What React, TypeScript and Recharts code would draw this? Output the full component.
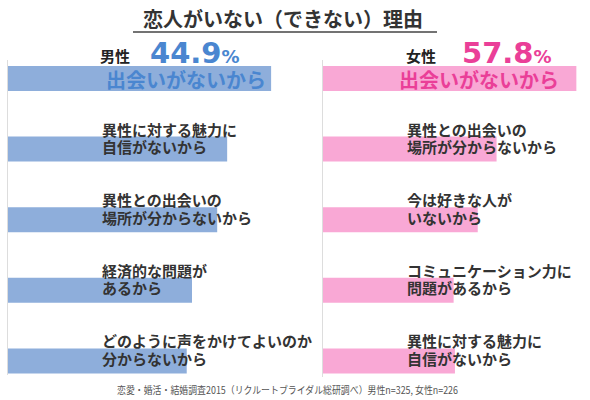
import { Bar, BarChart, LabelList, XAxis, YAxis } from "recharts";

const maleLine1 = ["出会いがないから", "異性に対する魅力に", "異性との出会いの", "経済的な問題が", "どのように声をかけてよいのか"];
const maleLine2 = ["", "自信がないから", "場所が分からないから", "あるから", "分からないから"];
const maleValues = [44.9, 37.4, 35.7, 31.4, 30.5];

const femaleLine1 = ["出会いがないから", "異性との出会いの", "今は好きな人が", "コミュニケーション力に", "異性に対する魅力に"];
const femaleLine2 = ["", "場所が分からないから", "いないから", "問題があるから", "自信がないから"];
const femaleValues = [57.8, 39.6, 35.3, 29.8, 30.1];

const title = "恋人がいない（できない）理由";
const note = "恋愛・婚活・結婚調査2015（リクルートブライダル総研調べ）男性n=325, 女性n=226";

const jp = '"Noto Sans CJK JP", "Noto Sans", sans-serif';
const num = '"DejaVu Sans", sans-serif';

type SideProps = {
  gender: string;
  values: number[];
  line1: string[];
  line2: string[];
  bar: string;
  accent: string;
  max: number;
  left: number;
  width: number;
  marginLeft: number;
  marginRight: number;
  topX: number;
  textX: number;
  genderX: number;
  pctX: number;
};

function Side(p: SideProps) {
  const data = p.values.map((v, i) => ({ name: p.line1[i] + p.line2[i], value: v }));

  const renderLabel = (props: any) => {
    const { y, height, index, value } = props;
    if (index === 0) {
      return (
        <g>
          <text x={p.genderX} y={y - 11} dominantBaseline="central" fontFamily={jp} fontWeight="bold" fontSize={15} fill="#222">
            {p.gender}
          </text>
          <text x={p.pctX} y={y - 3} fontFamily={num} fontWeight="bold" fontSize={29} fill={p.accent}>
            {value}
            <tspan fontSize={18}>%</tspan>
          </text>
          <text x={p.topX} y={y + height / 2 + 1} dominantBaseline="central" fontFamily={jp} fontWeight="bold" fontSize={20} fill={p.accent}>
            {p.line1[0]}
          </text>
        </g>
      );
    }
    return (
      <g fontFamily={jp} fontWeight="bold" fontSize={15} fill="#333">
        <text x={p.textX} y={y - 7.5} dominantBaseline="central">{p.line1[index]}</text>
        <text x={p.textX} y={y + 10} dominantBaseline="central">{p.line2[index]}</text>
      </g>
    );
  };

  return (
    <div style={{ position: "absolute", left: p.left, top: 0 }}>
      <BarChart
        width={p.width}
        height={400}
        data={data}
        layout="vertical"
        margin={{ top: 43, right: p.marginRight, bottom: 4, left: p.marginLeft }}
      >
        <XAxis type="number" domain={[0, p.max]} hide />
        <YAxis type="category" dataKey="name" hide />
        <Bar dataKey="value" fill={p.bar} barSize={25} isAnimationActive={false}>
          <LabelList dataKey="value" content={renderLabel} />
        </Bar>
      </BarChart>
    </div>
  );
}

export default function App() {
  return (
    <div style={{ position: "absolute", left: 0, top: 0, width: 590, height: 400, background: "#fff", overflow: "hidden" }}>
      <Side
        gender="男性"
        values={maleValues}
        line1={maleLine1}
        line2={maleLine2}
        bar="#8eaedb"
        accent="#4a86d0"
        max={50}
        left={0}
        width={330}
        marginLeft={8}
        marginRight={29}
        topX={106}
        textX={102}
        genderX={100}
        pctX={150}
      />
      <Side
        gender="女性"
        values={femaleValues}
        line1={femaleLine1}
        line2={femaleLine2}
        bar="#f9a8d5"
        accent="#ea3f98"
        max={60}
        left={323}
        width={267}
        marginLeft={0}
        marginRight={4}
        topX={76}
        textX={84}
        genderX={83}
        pctX={139}
      />
      <svg width={590} height={400} style={{ position: "absolute", left: 0, top: 0, pointerEvents: "none" }}>
        <line x1={7.5} x2={7.5} y1={60} y2={375} stroke="#dddddd" />
        <line x1={322.5} x2={322.5} y1={60} y2={377} stroke="#dddddd" />
        <text x={283} y={18} textAnchor="middle" dominantBaseline="central" fontFamily={jp} fontWeight="bold" fontSize={20} fill="#333">
          {title}
        </text>
        <line x1={133} x2={437} y1={32} y2={32} stroke="#444" strokeWidth={1.5} />
        <text
          x={117}
          y={389}
          dominantBaseline="central"
          fontFamily={jp}
          fontSize={10}
          fill="#555"
          textLength={341}
          lengthAdjust="spacingAndGlyphs"
        >
          {note}
        </text>
      </svg>
    </div>
  );
}
